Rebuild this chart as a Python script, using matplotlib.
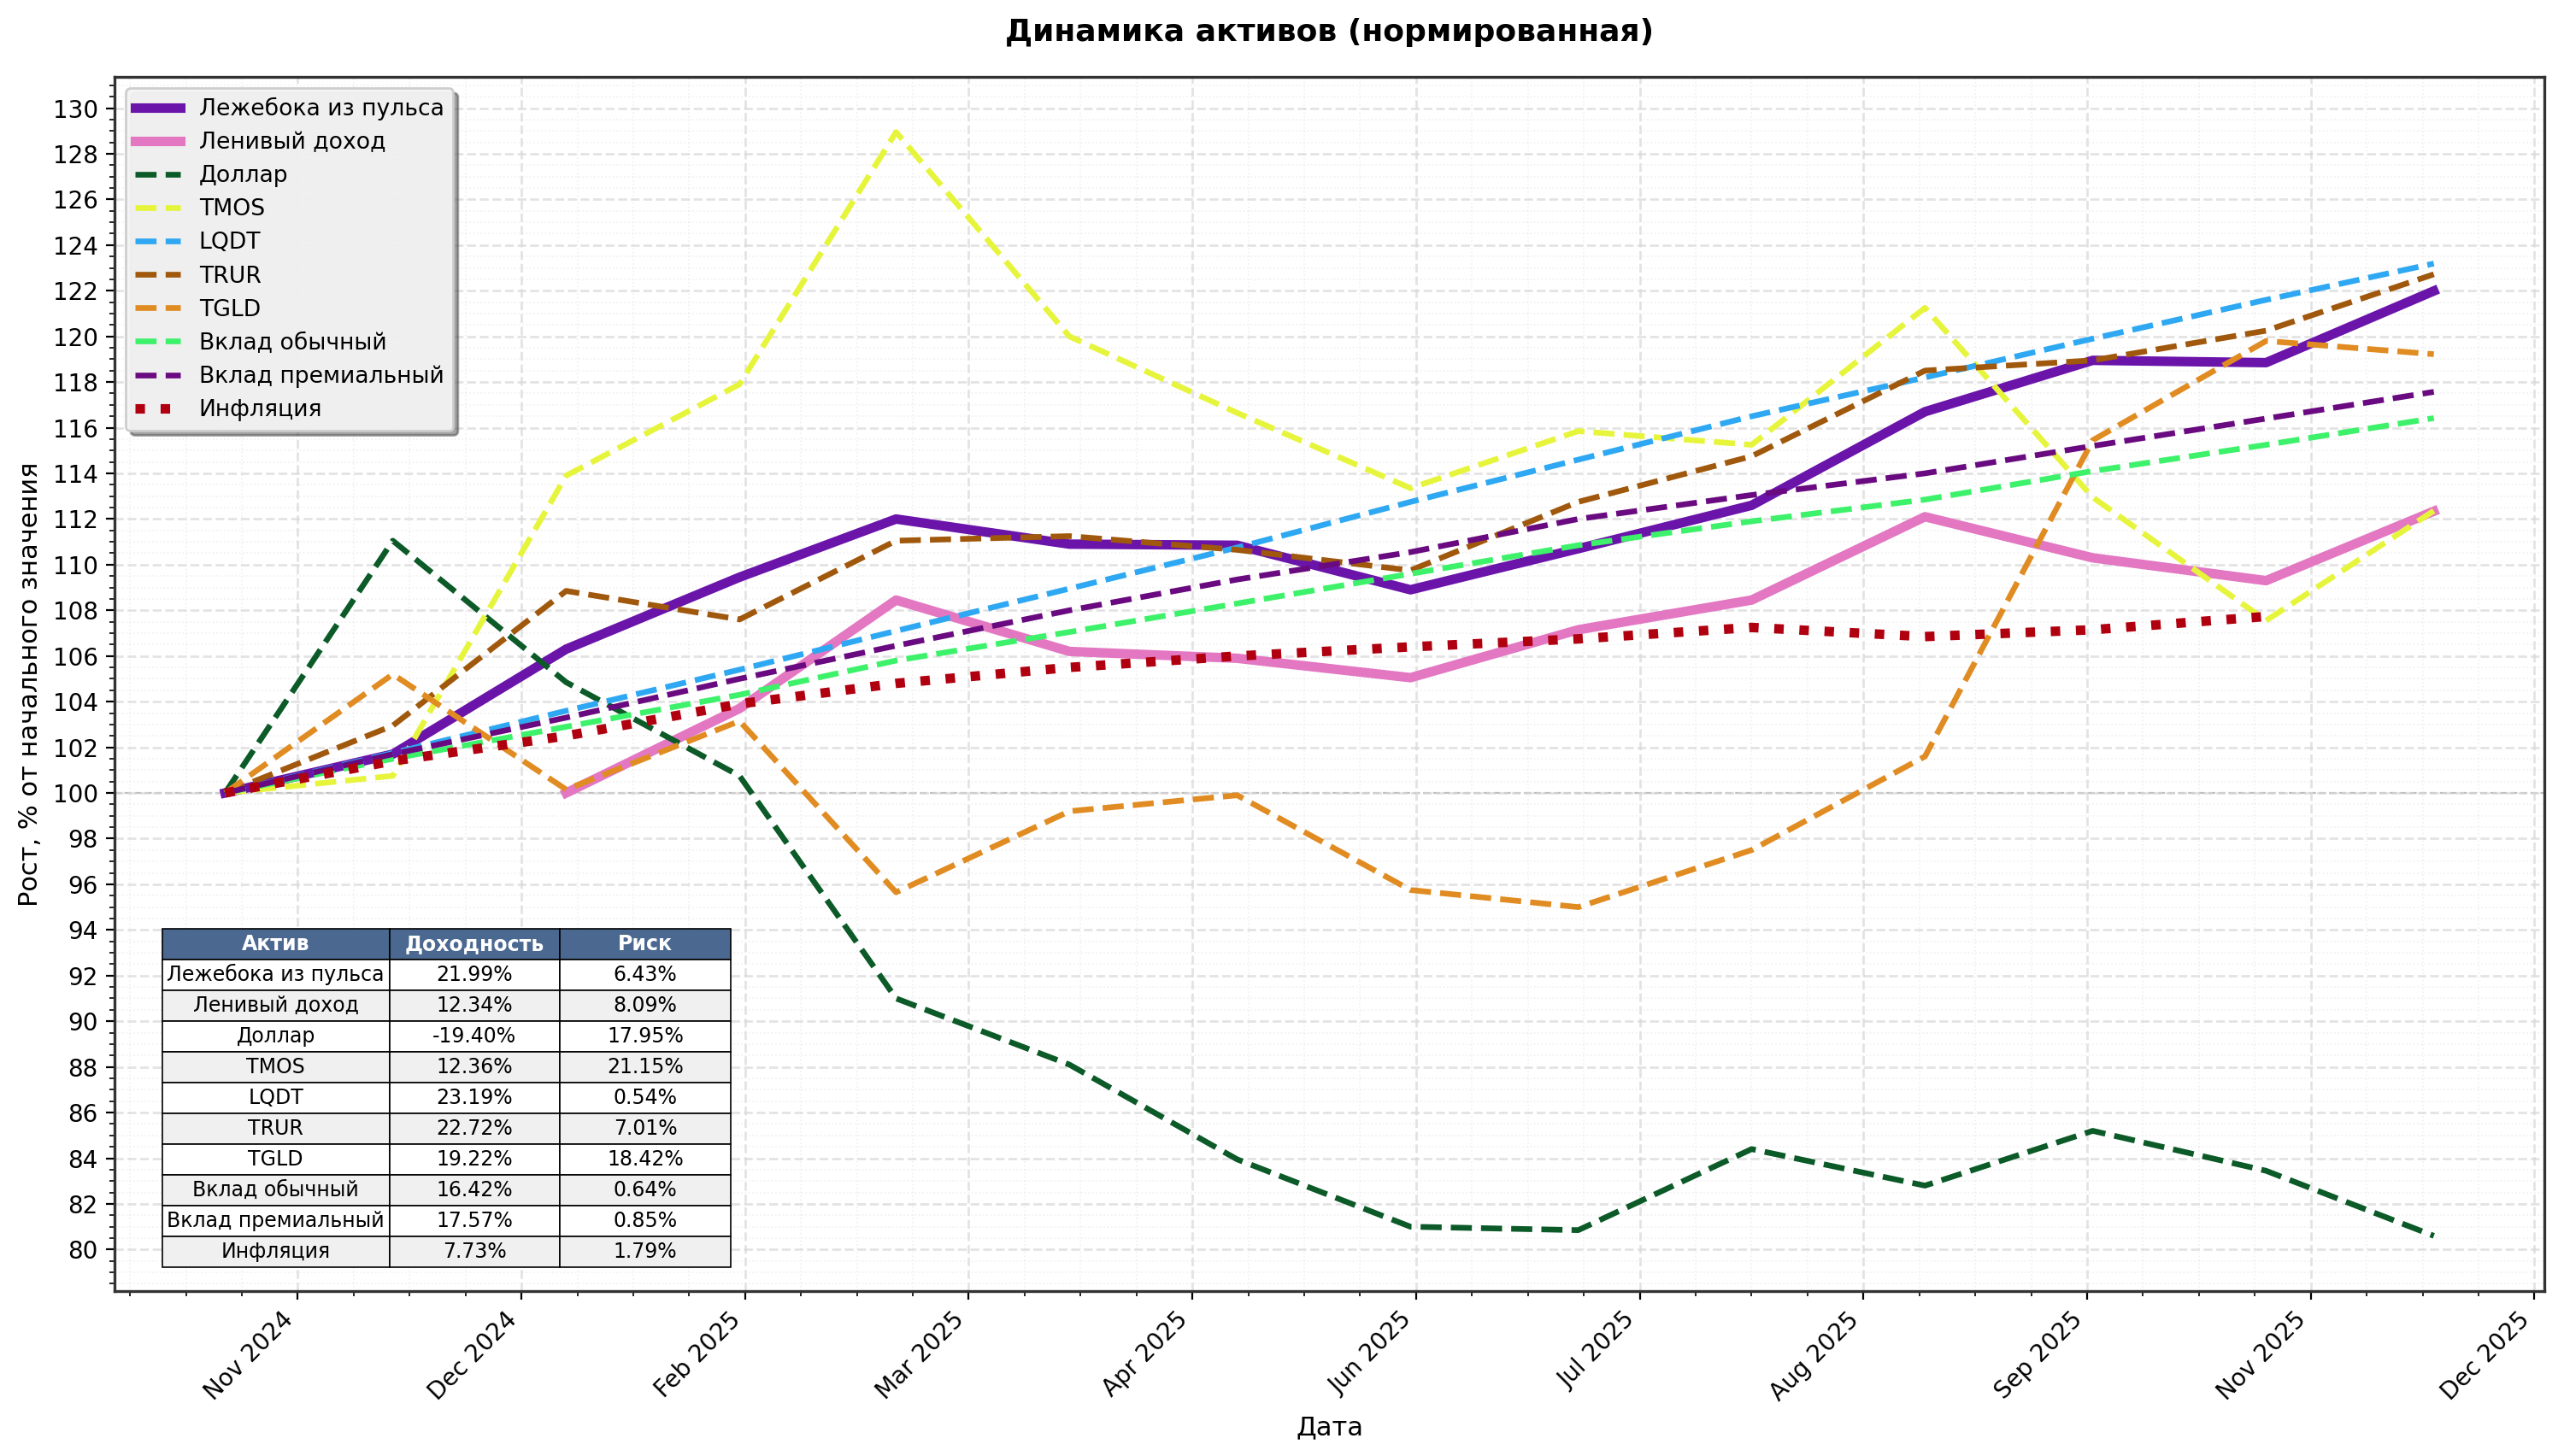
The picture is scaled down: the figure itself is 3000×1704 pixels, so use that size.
import matplotlib
matplotlib.use("Agg")
import matplotlib.pyplot as plt
import matplotlib.dates as mdates
from matplotlib.ticker import MultipleLocator, AutoMinorLocator
import numpy as np
import pandas as pd

plt.rcParams['font.family'] = ['DejaVu Sans']

dates = pd.to_datetime([
    "2024-10-31", "2024-11-30", "2024-12-31", "2025-01-31", "2025-02-28",
    "2025-03-31", "2025-04-30", "2025-05-31", "2025-06-30", "2025-07-31",
    "2025-08-31", "2025-09-30", "2025-10-31", "2025-11-30",
])

nan = np.nan
lezheboka = [100.0, 101.7, 106.3, 109.45, 112.0, 110.9, 110.85, 108.9, 110.7, 112.6, 116.7, 118.95, 118.85, 121.99]
lenivy = [nan, nan, 100.0, 103.7, 108.45, 106.2, 105.9, 105.05, 107.15, 108.45, 112.1, 110.3, 109.3, 112.34]
dollar = [100.0, 111.05, 104.85, 100.75, 91.0, 88.1, 83.95, 81.0, 80.85, 84.4, 82.8, 85.2, 83.45, 80.60]
tmos = [100.0, 100.75, 113.9, 117.9, 128.95, 120.0, 116.65, 113.35, 115.85, 115.25, 121.25, 112.95, 107.55, 112.36]
lqdt = [100.0, 101.75, 103.6, 105.4, 107.1, 108.95, 110.75, 112.75, 114.6, 116.5, 118.2, 119.9, 121.6, 123.19]
trur = [100.0, 102.95, 108.85, 107.6, 111.05, 111.25, 110.65, 109.75, 112.75, 114.75, 118.5, 118.95, 120.25, 122.72]
tgld = [100.0, 105.2, 100.15, 103.15, 95.65, 99.2, 99.9, 95.75, 95.0, 97.5, 101.6, 115.45, 119.8, 119.22]
vklad_obych = [100.0, 101.5, 102.9, 104.3, 105.8, 107.05, 108.3, 109.6, 110.85, 111.9, 112.85, 114.1, 115.25, 116.42]
vklad_prem = [100.0, 101.7, 103.3, 105.0, 106.45, 108.0, 109.35, 110.55, 112.0, 113.05, 114.0, 115.2, 116.4, 117.57]
inflation = [100.0, 101.4, 102.5, 103.9, 104.8, 105.5, 106.0, 106.4, 106.75, 107.25, 106.85, 107.15, 107.73, nan]

labels = ["Лежебока из пульса", "Ленивый доход", "Доллар", "TMOS", "LQDT", "TRUR", "TGLD",
          "Вклад обычный", "Вклад премиальный", "Инфляция"]
returns = ["21.99%", "12.34%", "-19.40%", "12.36%", "23.19%", "22.72%", "19.22%", "16.42%", "17.57%", "7.73%"]
risks = ["6.43%", "8.09%", "17.95%", "21.15%", "0.54%", "7.01%", "18.42%", "0.64%", "0.85%", "1.79%"]
col_labels = ["Актив", "Доходность", "Риск"]

series = [lezheboka, lenivy, dollar, tmos, lqdt, trur, tgld, vklad_obych, vklad_prem, inflation]
colors = ["#6a14aa", "#e377c2", "#0b5a28", "#e6f53c", "#2ea8f2", "#a0580c", "#e08c22",
          "#3df26a", "#6a0a80", "#b0000f"]
styles = ["-", "-", "--", "--", "--", "--", "--", "--", "--", ":"]
widths = [4, 4, 2.4, 2.4, 2.4, 2.4, 2.4, 2.4, 2.4, 4]

fig = plt.figure(figsize=(15, 8.52), dpi=200)
ax = fig.add_axes([0.0447, 0.1133, 0.9476, 0.8339])

ax.axhline(100, color="gray", linestyle="--", linewidth=0.8, alpha=0.5, zorder=1)
for vals, lab, c, ls, lw in zip(series, labels, colors, styles, widths):
    ax.plot(dates, vals, label=lab, color=c, linestyle=ls, linewidth=lw, zorder=3)

ax.xaxis.set_major_locator(MultipleLocator(40))
ax.xaxis.set_minor_locator(AutoMinorLocator())
ax.xaxis.set_major_formatter(mdates.DateFormatter("%b %Y"))
ax.yaxis.set_major_locator(MultipleLocator(2))
ax.yaxis.set_minor_locator(AutoMinorLocator())
plt.setp(ax.get_xticklabels(), rotation=45, ha="right")
ax.tick_params(labelsize=10)

ax.grid(True, which="major", linestyle="--", linewidth=1.0, color="#d8d8d8", alpha=0.7)
ax.grid(True, which="minor", linestyle=":", linewidth=0.6, color="#e0e0e0", alpha=0.5)
for sp in ax.spines.values():
    sp.set_linewidth(1.2)
    sp.set_color("#333333")

ax.set_title("Динамика активов (нормированная)", fontsize=13, fontweight="bold", pad=15)
ax.set_xlabel("Дата", fontsize=11)
ax.set_ylabel("Рост, % от начального значения", fontsize=11)

leg = ax.legend(loc="upper left", fontsize=9.6, labelspacing=0.49, shadow=True, fancybox=True,
                framealpha=0.95, facecolor="#f4f4f4", edgecolor="#cccccc")

cell_text = [[l, r, k] for l, r, k in zip(labels, returns, risks)]
tbl = ax.table(cellText=cell_text, colLabels=col_labels, cellLoc="center",
               bbox=[0.0195, 0.0195, 0.234, 0.279], colWidths=[0.4, 0.3, 0.3])
tbl.auto_set_font_size(False)
tbl.set_fontsize(8.5)
tbl.set_zorder(5)
for (r, c), cell in tbl.get_celld().items():
    cell.set_edgecolor("black")
    cell.set_linewidth(0.6)
    if r == 0:
        cell.set_facecolor("#4a6890")
        cell.get_text().set_color("white")
        cell.get_text().set_fontweight("bold")
    else:
        cell.set_facecolor("white" if r % 2 == 1 else "#f0f0f0")

fig.savefig("out.png", dpi=200)
